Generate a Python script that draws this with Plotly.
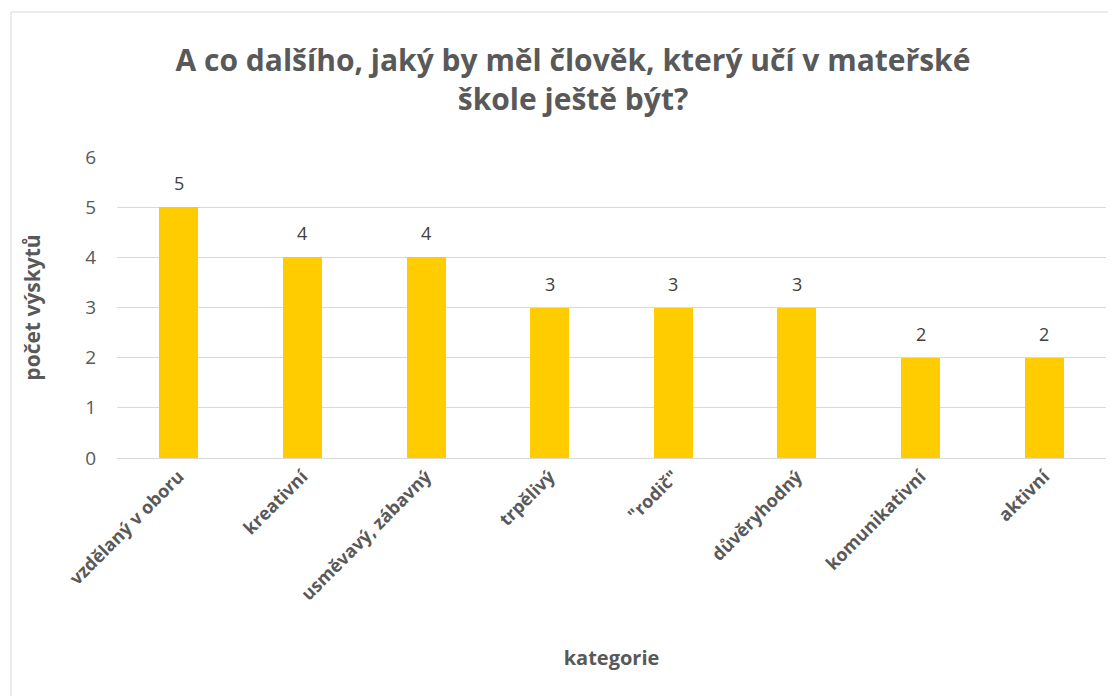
import plotly.graph_objects as go

categories = ["vzdělaný v oboru", "kreativní", "usměvavý, zábavný", "trpělivý",
              "\"rodič\"", "důvěryhodný", "komunikativní", "aktivní"]
values = [5, 4, 4, 3, 3, 3, 2, 2]
y_ticks = [0, 1, 2, 3, 4, 5, 6]

FONT = "Open Sans"
GRAY = "#595959"

# page has an 8px body margin; figure coordinates are offset accordingly
OFF = 8
W, H = 1116, 696
L, R, T, B = 117 - OFF, 1116 - (1106 - OFF), 157 - OFF, 696 - (458 - OFF)
pw = W - L - R
ph = H - T - B

fig = go.Figure(go.Bar(
    x=categories, y=values,
    marker=dict(color="#FFCC00", line=dict(width=0)),
    width=0.315,
))

for c, v in zip(categories, values):
    fig.add_annotation(
        x=c, y=v, text=str(v), showarrow=False, yanchor="middle", yshift=24,
        font=dict(family=FONT, size=18, color="#404040"),
    )

fig.update_layout(
    width=W, height=H,
    margin=dict(l=L, r=R, t=T, b=B),
    paper_bgcolor="white", plot_bgcolor="white",
    showlegend=False,
    bargap=0,
    title=dict(
        text="<b>A co dalšího, jaký by měl člověk, který učí v mateřské<br>škole ještě být?</b>",
        x=(573 - OFF) / W, xanchor="center", y=1 - (71 - OFF) / H, yanchor="middle",
        font=dict(family=FONT, size=30, color=GRAY),
    ),
    font=dict(family=FONT, color=GRAY),
)

fig.update_xaxes(
    tickangle=-45,
    tickfont=dict(family=FONT, size=18, color=GRAY),
    tickprefix="<b>", ticksuffix="</b>",
    showgrid=False, zeroline=False,
    showline=True, linecolor="#d9d9d9", linewidth=1,
    ticks="",
    title=dict(text="<b>kategorie</b>", font=dict(family=FONT, size=20, color=GRAY), standoff=46),
)
fig.update_yaxes(
    range=[0, 6], tickvals=y_ticks,
    tickfont=dict(family=FONT, size=19, color=GRAY),
    showgrid=True, gridcolor="#d9d9d9", gridwidth=1,
    zeroline=False, showline=False, ticks="",
    ticklabelstandoff=20,
    title=dict(text="<b>počet výskytů</b>", font=dict(family=FONT, size=21, color=GRAY), standoff=38),
)

# outer chart border
fig.add_shape(
    type="rect", xref="paper", yref="paper",
    x0=(11 - OFF - L) / pw, x1=(1130 - L) / pw,
    y0=(T + ph - 710) / ph, y1=(T + ph - (12 - OFF)) / ph,
    line=dict(color="#d9d9d9", width=1), fillcolor="rgba(0,0,0,0)", layer="below",
)

fig.write_html("out.html")
